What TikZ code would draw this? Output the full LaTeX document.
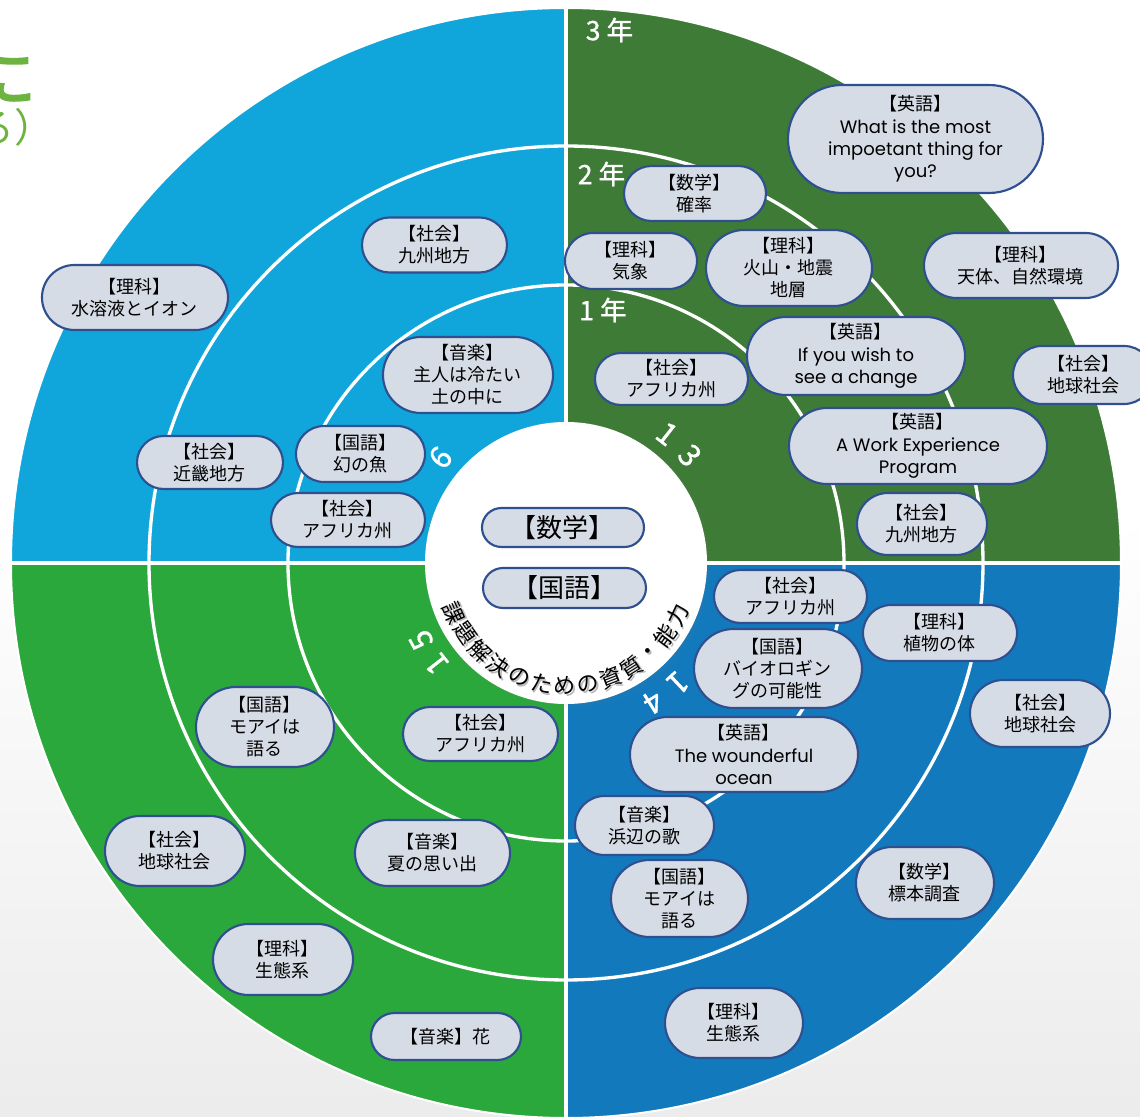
\documentclass[tikz,border=0pt]{standalone}
\usepackage{fontspec}
\setmainfont{Noto Sans CJK JP}
\newfontfamily\boldcjk[FakeBold=3]{Noto Sans CJK JP}
\newfontfamily\labelcjk[FakeBold=1]{Noto Sans CJK JP}
\newfontfamily\latin{Poppins}
\usetikzlibrary{shapes.misc, shadows}
\definecolor{tlblue}{HTML}{10A6DB}
\definecolor{trgreen}{HTML}{3E7B36}
\definecolor{blgreen}{HTML}{2AA83B}
\definecolor{brblue}{HTML}{1279BC}
\definecolor{boxfill}{HTML}{D6DCE6}
\definecolor{boxline}{HTML}{2F4F8F}
\definecolor{titlegreen}{HTML}{6DB33F}
\definecolor{bgbottom}{HTML}{DADADA}
\pgfdeclareverticalshading{bgfade}{100bp}{color(0bp)=(bgbottom); color(52bp)=(white); color(100bp)=(white)}

\begin{document}
\begin{tikzpicture}[x=0.75pt,y=0.75pt,
pill/.style 2 args={rounded rectangle,draw=boxline,fill=boxfill,line width=1.6pt,
  minimum width=#1*0.75pt,minimum height=#2*0.75pt,inner sep=0pt,align=center,
  font=\fontsize{13.5}{16.5}\selectfont},
big pill/.style 2 args={pill={#1}{#2},font=\fontsize{19.5}{22}\selectfont},
en pill/.style 2 args={pill={#1}{#2},font=\fontsize{13.5}{16.8}\selectfont},
year/.style={text=white,inner sep=0pt,font=\labelcjk\fontsize{20}{22}\selectfont},
num/.style={text=white,inner sep=0pt,font=\labelcjk\fontsize{23}{24}\selectfont},
arc text/.style={inner sep=0pt,font=\fontsize{16.5}{18}\selectfont},
ring/.style={white,line width=2.5pt}]
\shade[shading=bgfade] (-566,-554) rectangle (574,563);
\useasboundingbox (-566,-554) rectangle (574,563);
\fill[tlblue] (0,0) -- (90:555) arc (90:180:555) -- cycle;
\fill[blgreen] (0,0) -- (180:555) arc (180:270:555) -- cycle;
\fill[brblue] (0,0) -- (270:555) arc (270:360:555) -- cycle;
\fill[trgreen] (0,0) -- (0:555) arc (0:90:555) -- cycle;
\draw[ring] (0,0) circle (417) (0,0) circle (278);
\draw[white,line width=1.5pt] (0,0) circle (555);
\draw[white,line width=3.5pt] (0,-555) -- (0,555) (-555,0) -- (555,0);
\fill[white,circular drop shadow={shadow scale=1.03,shadow xshift=0.5pt,shadow yshift=-1pt,opacity=0.3}] (0,0) circle (141);
\foreach \ch [count=\i from 0, evaluate=\i as \ang using 204+\i*10.9,
  evaluate=\i as \rot using 294+\i*10.9] in {課,題,解,決,の,た,め,の,資,質,・,能,力}
{
  \node[arc text,text=black!28,xshift=1.3pt,yshift=-1.3pt,rotate=\rot] (s\i) at (\ang:123) {\ch};
  \node[arc text,rotate=\rot] (c\i) at (\ang:123) {\ch};
}
\foreach \a/\t [count=\i, evaluate=\a as \r using \a-90] in {52/1,41/3,140/6,218/1,208/5,-47/1,-58/4}
  \node[num,rotate=\r] (n\i) at (\a:164) {\t};
\node[year] (y3) at (43.5,533) {3 年};
\node[year] (y2) at (35.5,389) {2 年};
\node[year] (y1) at (37,253) {1 年};
\node[pill={186}{65}] (1) at (-431,265.5) {【理科】\\水溶液とイオン};
\node[pill={145}{55}] (2) at (-131.5,318) {【社会】\\九州地方};
\node[pill={170}{76}] (3) at (-98,188) {【音楽】\\主人は冷たい\\土の中に};
\node[pill={129}{56}] (4) at (-205.5,109) {【国語】\\幻の魚};
\node[pill={146}{53}] (5) at (-356,100.5) {【社会】\\近畿地方};
\node[pill={154}{54}] (6) at (-218,43) {【社会】\\アフリカ州};
\node[en pill={255}{108}] (7) at (349.5,424) {【英語】\\{\latin What is the most}\\{\latin impoetant thing for}\\{\latin you?}};
\node[pill={142}{55}] (8) at (129,369.5) {【数学】\\確率};
\node[pill={132}{56}] (9) at (65,302) {【理科】\\気象};
\node[pill={166}{76}] (10) at (223,295) {【理科】\\火山・地震\\地層};
\node[pill={194}{65}] (11) at (455,297.5) {【理科】\\天体、自然環境};
\node[en pill={218}{78}] (12) at (290,207) {【英語】\\{\latin If you wish to}\\{\latin see a change}};
\node[pill={153}{52}] (13) at (105.5,184) {【社会】\\アフリカ州};
\node[pill={140}{58}] (14) at (517,188) {【社会】\\地球社会};
\node[en pill={258}{76}] (15) at (352,117) {【英語】\\{\latin A Work Experience}\\{\latin Program}};
\node[pill={130}{62}] (16) at (356,39) {【社会】\\九州地方};
\node[pill={153}{53}] (17) at (224.5,-33.5) {【社会】\\アフリカ州};
\node[pill={154}{56}] (18) at (374,-70) {【理科】\\植物の体};
\node[pill={168}{79}] (19) at (212,-105.5) {【国語】\\バイオロギン\\グの可能性};
\node[pill={140}{67}] (20) at (474,-150.5) {【社会】\\地球社会};
\node[en pill={228}{75}] (21) at (178,-191.5) {【英語】\\{\latin The wounderful}\\{\latin ocean}};
\node[pill={139}{59}] (22) at (78.5,-262.5) {【音楽】\\浜辺の歌};
\node[pill={137}{77}] (23) at (113.5,-335.5) {【国語】\\モアイは\\語る};
\node[pill={138}{72}] (24) at (359,-320) {【数学】\\標本調査};
\node[pill={138}{70}] (25) at (168,-460) {【理科】\\生態系};
\node[pill={138}{80}] (26) at (-301,-164) {【国語】\\モアイは\\語る};
\node[pill={155}{54}] (27) at (-85.5,-171) {【社会】\\アフリカ州};
\node[pill={140}{70}] (28) at (-391,-288) {【社会】\\地球社会};
\node[pill={155}{66}] (29) at (-133.5,-290) {【音楽】\\夏の思い出};
\node[pill={140}{71}] (30) at (-283,-396.5) {【理科】\\生態系};
\node[pill={150}{47}] (31) at (-120,-473.5) {【音楽】花};
\node[big pill={162}{39}] (32) at (-3,35.5) {【数学】};
\node[big pill={163}{40}] (33) at (-1.5,-25) {【国語】};
\node[text=titlegreen,inner sep=0pt,font=\boldcjk\fontsize{48}{48}\selectfont] (t1) at (-562,485) {に};
\node[text=titlegreen,inner sep=0pt,anchor=east,font=\fontsize{30}{30}\selectfont] (t2) at (-511,436) {る）};
\end{tikzpicture}
\end{document}
